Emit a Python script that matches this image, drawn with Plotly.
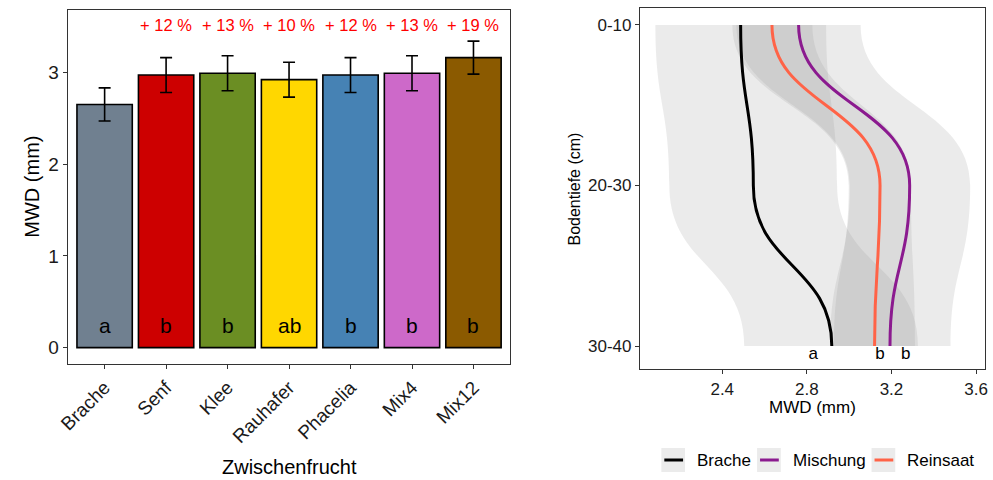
import plotly.graph_objects as go

# ---------------- data: left panel (bar chart) ----------------
categories = ["Brache", "Senf", "Klee", "Rauhafer", "Phacelia", "Mix4", "Mix12"]
mwd_mean = [2.65, 2.97, 2.99, 2.92, 2.97, 2.99, 3.16]
mwd_err = [0.18, 0.19, 0.19, 0.19, 0.19, 0.19, 0.18]
bar_colors = ["#708090", "#CD0000", "#6B8E23", "#FFD700", "#4682B4", "#CD69C9", "#8B5A00"]
sig_letters = ["a", "b", "b", "ab", "b", "b", "b"]
pct_labels = ["", "+ 12 %", "+ 13 %", "+ 10 %", "+ 12 %", "+ 13 %", "+ 19 %"]

# ---------------- data: right panel (depth profiles) ----------------
depth_labels = ["0-10", "20-30", "30-40"]
depth_pos = [1, 2, 3]
groups = ["Brache", "Mischung", "Reinsaat"]
group_colors = ["#000000", "#8B1A8F", "#FF6347"]
brache_mean = [2.487, 2.547, 2.918]
brache_lo = [2.084, 2.150, 2.504]
brache_hi = [2.891, 2.943, 3.325]
mischung_mean = [2.761, 3.286, 3.193]
mischung_lo = [2.467, 3.003, 2.910]
mischung_hi = [3.054, 3.572, 3.479]
reinsaat_mean = [2.635, 3.146, 3.120]
reinsaat_lo = [2.448, 2.998, 2.928]
reinsaat_hi = [2.826, 3.292, 3.311]
profile_letters = ["a", "b", "b"]
profile_letter_x = [2.83, 3.146, 3.267]
x2_ticks = [2.4, 2.8, 3.2, 3.6]

FONT = "Liberation Sans, Arial, sans-serif"
W, H = 993, 480


def px(x):
    return x / W


def py(y):
    return 1 - y / H


def smooth_path(xs, ys):
    """Cubic Bezier path with vertical tangents at each depth level."""
    parts = [f"M {xs[0]},{ys[0]}"]
    for i in range(1, len(xs)):
        ym = (ys[i - 1] + ys[i]) / 2
        parts.append(f"C {xs[i-1]},{ym} {xs[i]},{ym} {xs[i]},{ys[i]}")
    return " ".join(parts)


def ribbon_path(lo, hi, ys):
    p = smooth_path(lo, ys)
    p += f" L {hi[-1]},{ys[-1]}"
    rhi = hi[::-1]
    rys = ys[::-1]
    for i in range(1, len(rhi)):
        ym = (rys[i - 1] + rys[i]) / 2
        p += f" C {rhi[i-1]},{ym} {rhi[i]},{ym} {rhi[i]},{rys[i]}"
    return p + " Z"


fig = go.Figure()

fig.add_trace(go.Bar(
    x=categories, y=mwd_mean, width=0.9,
    marker=dict(color=bar_colors, line=dict(color="black", width=1.6)),
    error_y=dict(type="data", array=mwd_err, color="black", thickness=1.6, width=6),
    xaxis="x", yaxis="y", showlegend=False, hoverinfo="skip",
))

fig.add_trace(go.Scatter(
    x=profile_letter_x, y=[3.055] * 3, mode="text", text=profile_letters,
    textfont=dict(family=FONT, size=17, color="black"),
    xaxis="x2", yaxis="y2", showlegend=False, hoverinfo="skip",
))

shapes = []
ribbons = [(brache_lo, brache_hi), (mischung_lo, mischung_hi), (reinsaat_lo, reinsaat_hi)]
for lo, hi in ribbons:
    shapes.append(dict(type="path", xref="x2", yref="y2", path=ribbon_path(lo, hi, depth_pos),
                       fillcolor="rgba(153,153,153,0.2)", line=dict(width=0), layer="below"))
means = [brache_mean, mischung_mean, reinsaat_mean]
for m, c in zip(means, group_colors):
    shapes.append(dict(type="path", xref="x2", yref="y2", path=smooth_path(m, depth_pos),
                       line=dict(color=c, width=3), layer="above"))

annotations = []
for cat, lab in zip(categories, pct_labels):
    if lab:
        annotations.append(dict(x=cat, y=3.52, xref="x", yref="y", text=lab, showarrow=False,
                                xanchor="center", yanchor="middle",
                                font=dict(family=FONT, size=16.5, color="#FF0000")))
for cat, lab in zip(categories, sig_letters):
    annotations.append(dict(x=cat, y=0.24, xref="x", yref="y", text=lab, showarrow=False,
                            xanchor="center", yanchor="middle",
                            font=dict(family=FONT, size=21, color="black")))

# axis titles
annotations += [
    dict(x=px(22), y=py(187), xref="paper", yref="paper", text="MWD (mm)", textangle=-90,
         xanchor="center", yanchor="middle",
         showarrow=False, font=dict(family=FONT, size=20, color="black")),
    dict(x=px(283), y=py(467), xref="paper", yref="paper", text="Zwischenfrucht",
         xanchor="center", yanchor="middle",
         showarrow=False, font=dict(family=FONT, size=20, color="black")),
    dict(x=px(571), y=py(189), xref="paper", yref="paper", text="Bodentiefe (cm)", textangle=-90,
         xanchor="center", yanchor="middle",
         showarrow=False, font=dict(family=FONT, size=16, color="black")),
    dict(x=px(813), y=py(407), xref="paper", yref="paper", text="MWD (mm)",
         xanchor="center", yanchor="middle",
         showarrow=False, font=dict(family=FONT, size=17, color="black")),
]

# manual legend (ggplot style keys)
legend_x = [660, 757, 873]
for g, c, lx in zip(groups, group_colors, legend_x):
    shapes.append(dict(type="rect", xref="paper", yref="paper", x0=px(lx), x1=px(lx + 24),
                       y0=py(472), y1=py(448), fillcolor="#EBEBEB", line=dict(width=0)))
    shapes.append(dict(type="line", xref="paper", yref="paper", x0=px(lx + 3), x1=px(lx + 22),
                       y0=py(460), y1=py(460), line=dict(color=c, width=3)))
    annotations.append(dict(x=px(lx + 34), y=py(460), xref="paper", yref="paper", text=g,
                            xanchor="left", yanchor="middle", showarrow=False,
                            font=dict(family=FONT, size=17, color="black")))

axis_common = dict(showgrid=False, zeroline=False, showline=True, mirror=True,
                   linecolor="#333333", linewidth=1, ticks="outside", ticklen=4,
                   tickcolor="#333333", tickwidth=1)

fig.update_layout(
    width=W, height=H, autosize=False,
    margin=dict(l=0, r=0, t=0, b=0),
    paper_bgcolor="white", plot_bgcolor="white",
    showlegend=False,
    font=dict(family=FONT, color="black"),
    xaxis=dict(domain=[px(58.5), px(507)], anchor="y", type="category",
               range=[-0.6, 6.6], tickangle=-45,
               tickfont=dict(family=FONT, size=19, color="#1a1a1a"), **axis_common),
    yaxis=dict(domain=[py(364), py(10)], anchor="x", range=[-0.178, 3.679],
               tickvals=[0, 1, 2, 3], tickfont=dict(family=FONT, size=19, color="#1a1a1a"),
               **axis_common),
    xaxis2=dict(domain=[px(638.3), px(987.7)], anchor="y2", range=[2.011, 3.641],
                tickvals=x2_ticks, ticktext=[f"{v:.1f}" for v in x2_ticks],
                tickfont=dict(family=FONT, size=17, color="#1a1a1a"), **axis_common),
    yaxis2=dict(domain=[py(369.3), py(8.3)], anchor="x2", range=[3.145, 0.896],
                tickvals=depth_pos, ticktext=depth_labels,
                tickfont=dict(family=FONT, size=17, color="#1a1a1a"), **axis_common),
    shapes=shapes,
    annotations=annotations,
)

fig.write_html("out.html")
